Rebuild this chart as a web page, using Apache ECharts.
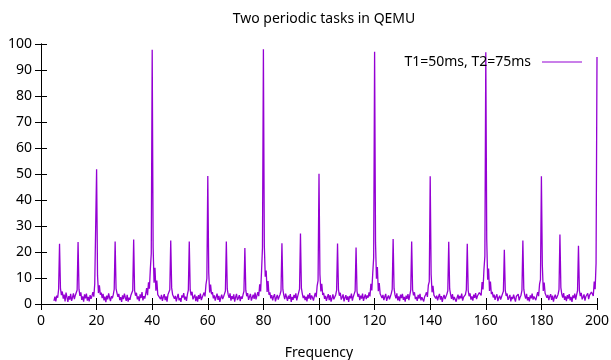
<!DOCTYPE html>
<html>
<head>
<meta charset="utf-8">
<script src="https://cdn.jsdelivr.net/npm/echarts@6/dist/echarts.min.js"></script>
<style>
  html, body { margin: 0; padding: 0; background: #fff; }
  #chart { width: 611px; height: 360px; }
</style>
</head>
<body>
<div id="chart"></div>
<script>
// Spectrum bins: frequency of bin n = n * BIN_WIDTH_HZ, first drawn bin = FIRST_BIN
const FIRST_BIN = 14;
const BIN_WIDTH_HZ = 1 / 3;

const xTicks = [0, 20, 40, 60, 80, 100, 120, 140, 160, 180, 200];
const yTicks = [0, 10, 20, 30, 40, 50, 60, 70, 80, 90, 100];

const seriesName = 'T1=50ms, T2=75ms';

// amplitude per bin; each row starts at a peak
const amplitude = [
  1.2, 2.8, 1.0, 3.2, 2.4, 5.6,
  23.2, 6.0, 3.4, 4.8, 2.1, 3.6, 1.0, 4.4, 2.6, 0.8, 3.0, 1.7, 3.9, 1.2, 2.5, 4.1, 1.9, 3.3, 3.8, 5.4,
  23.8, 5.7, 3.1, 4.5, 1.6, 2.9, 0.9, 3.7, 2.2, 4.0, 1.3, 2.7, 1.0, 3.4, 2.0, 3.1, 4.6, 2.8, 7.8, 8.4,
  51.8, 11.0, 4.2, 7.2, 3.6, 4.4, 2.3, 3.9, 1.4, 2.8, 0.7, 3.2, 1.8, 4.1, 2.4, 1.1, 3.0, 2.2, 3.6, 5.6,
  24.0, 5.9, 4.2, 2.8, 3.9, 1.5, 2.6, 0.8, 3.3, 1.9, 4.0, 2.5, 1.2, 3.5, 0.9, 2.4, 1.6, 3.4, 4.1, 5.2,
  24.8, 5.1, 3.2, 4.3, 1.8, 2.9, 1.1, 3.7, 2.3, 4.6, 1.4, 3.0, 2.1, 3.9, 6.1, 3.4, 8.3, 5.9, 13.5, 19.4,
  97.8, 21.7, 8.2, 13.9, 5.1, 9.0, 3.6, 3.1, 4.2, 1.9, 3.5, 1.2, 2.7, 3.8, 1.5, 2.9, 0.9, 3.6, 4.0, 5.5,
  24.4, 6.2, 3.7, 4.4, 2.0, 3.1, 1.0, 2.6, 3.9, 1.4, 2.2, 0.8, 3.3, 2.5, 4.2, 1.7, 2.8, 1.2, 3.7, 5.3,
  24.0, 5.4, 3.3, 4.7, 1.8, 2.5, 3.6, 1.1, 2.9, 0.9, 3.4, 2.0, 4.0, 1.5, 2.6, 3.2, 4.4, 2.9, 7.4, 9.8,
  49.2, 12.0, 4.4, 7.5, 3.8, 4.6, 2.2, 3.3, 1.3, 2.7, 4.0, 1.6, 3.1, 0.8, 2.4, 3.6, 1.9, 2.8, 3.9, 5.0,
  24.0, 5.8, 3.6, 2.4, 4.1, 1.3, 3.0, 1.9, 3.7, 0.9, 2.6, 3.9, 1.5, 2.3, 3.4, 1.1, 2.9, 2.0, 3.5, 4.9,
  21.5, 5.3, 3.0, 4.2, 1.6, 2.8, 3.9, 1.3, 2.5, 3.6, 2.0, 4.4, 1.8, 3.2, 4.6, 3.0, 7.6, 4.8, 12.6, 21.6,
  98.0, 22.4, 10.5, 12.9, 4.6, 8.8, 3.6, 4.5, 2.2, 3.4, 1.4, 2.9, 3.8, 1.0, 2.4, 3.5, 1.7, 2.8, 3.7, 5.1,
  23.4, 5.6, 3.4, 1.9, 4.0, 2.6, 1.2, 3.2, 2.0, 3.8, 0.8, 2.7, 1.6, 3.5, 2.3, 4.1, 1.4, 2.9, 3.6, 5.7,
  27.1, 6.1, 3.9, 2.3, 3.2, 1.5, 2.8, 1.0, 3.6, 2.1, 4.2, 1.7, 3.3, 2.5, 1.3, 3.0, 4.3, 2.6, 7.0, 9.0,
  50.1, 11.4, 4.8, 7.8, 3.5, 4.3, 2.0, 3.1, 1.2, 2.6, 3.8, 1.5, 3.4, 0.9, 2.2, 3.7, 1.8, 2.7, 3.5, 5.2,
  23.3, 5.5, 3.2, 4.3, 1.7, 2.6, 3.7, 1.0, 2.4, 3.4, 1.6, 2.9, 0.8, 3.1, 2.2, 4.0, 1.3, 2.8, 3.9, 5.0,
  21.7, 5.0, 2.8, 3.9, 1.5, 3.2, 2.1, 4.0, 1.2, 2.6, 3.7, 1.9, 3.3, 2.4, 4.5, 2.9, 7.8, 5.2, 11.8, 17.9,
  97.0, 23.6, 9.7, 14.2, 4.9, 8.1, 3.9, 4.6, 2.3, 3.5, 1.5, 2.8, 3.9, 1.2, 2.5, 3.3, 1.8, 2.9, 4.0, 5.6,
  25.0, 6.0, 3.5, 2.2, 4.1, 1.4, 2.9, 1.1, 3.6, 2.3, 3.9, 1.6, 2.7, 0.9, 3.2, 2.0, 3.8, 1.5, 3.4, 5.3,
  24.0, 5.4, 3.3, 4.5, 1.9, 2.7, 1.2, 3.5, 2.1, 3.9, 1.4, 2.6, 3.3, 1.0, 2.8, 3.6, 4.5, 2.7, 7.2, 8.6,
  49.1, 11.4, 4.5, 7.0, 3.4, 4.1, 2.1, 3.2, 1.4, 2.8, 3.9, 1.7, 3.0, 0.8, 2.5, 3.5, 1.9, 2.6, 3.8, 5.1,
  23.9, 5.8, 3.7, 2.0, 3.8, 1.5, 2.7, 3.4, 0.9, 2.4, 3.6, 1.8, 3.1, 2.2, 4.0, 1.3, 2.6, 1.9, 3.6, 5.4,
  23.2, 5.2, 3.0, 4.1, 1.7, 2.9, 1.3, 3.6, 2.4, 4.2, 1.9, 3.1, 2.6, 4.4, 5.1, 3.3, 8.4, 5.6, 13.2, 18.4,
  96.8, 25.0, 9.3, 13.6, 5.0, 8.6, 3.8, 4.7, 2.5, 3.6, 1.6, 2.9, 3.7, 1.1, 2.4, 3.2, 1.7, 2.8, 3.9, 4.9,
  20.9, 5.3, 3.1, 4.0, 1.6, 2.5, 3.5, 1.0, 2.7, 1.9, 3.6, 2.2, 0.9, 3.0, 2.4, 3.8, 1.4, 2.6, 3.4, 5.2,
  24.4, 5.7, 3.4, 2.1, 3.9, 1.4, 2.6, 1.0, 3.3, 2.2, 4.0, 1.7, 2.9, 3.5, 1.5, 3.1, 4.6, 3.0, 7.6, 9.4,
  49.1, 15.0, 5.0, 8.2, 4.1, 4.8, 2.4, 3.5, 1.5, 2.9, 3.8, 1.6, 3.2, 0.9, 2.6, 3.6, 2.0, 2.8, 3.7, 5.5,
  26.7, 6.3, 3.8, 2.5, 4.2, 1.6, 2.9, 1.1, 3.4, 2.1, 3.8, 1.4, 2.7, 0.8, 3.3, 2.3, 4.0, 1.7, 3.5, 5.1,
  22.4, 5.2, 3.0, 4.3, 1.8, 2.6, 3.7, 1.3, 2.9, 2.2, 4.1, 1.9, 3.4, 2.7, 4.6, 5.3, 3.1, 8.6, 5.7, 15.8,
  95.0
];

const points = amplitude.map((v, i) => [(FIRST_BIN + i) * BIN_WIDTH_HZ, v]);

const FONT = 'Noto Sans';
const FS = 14;
const chart = echarts.init(document.getElementById('chart'), null, { renderer: 'canvas' });

const xCommon = {
  type: 'value', min: xTicks[0], max: xTicks[xTicks.length - 1],
  interval: xTicks[1] - xTicks[0],
  splitLine: { show: false },
  axisLine: { show: true, lineStyle: { color: '#000', width: 1 } },
  axisTick: { show: true, inside: true, length: 6, lineStyle: { color: '#000', width: 1 } }
};
const yCommon = {
  type: 'value', min: yTicks[0], max: yTicks[yTicks.length - 1],
  interval: yTicks[1] - yTicks[0],
  splitLine: { show: false },
  axisLine: { show: true, lineStyle: { color: '#000', width: 1 } },
  axisTick: { show: true, inside: true, length: 6, lineStyle: { color: '#000', width: 1 } }
};

chart.setOption({
  animation: false,
  backgroundColor: '#fff',
  title: {
    text: 'Two periodic tasks in QEMU',
    left: 319, top: 7, textAlign: 'center',
    textStyle: { fontFamily: FONT, fontSize: FS, fontWeight: 'normal', color: '#000' }
  },
  legend: {
    data: [{ name: seriesName, icon: 'rect' }],
    right: 29, top: 55, align: 'right', padding: 0,
    itemWidth: 40, itemHeight: 1,
    textStyle: { fontFamily: FONT, fontSize: FS, color: '#000', padding: [0, 6, 0, 0] }
  },
  grid: { left: 41, right: 14, top: 44, bottom: 56, containLabel: false, outerBoundsMode: 'none' },
  xAxis: [
    Object.assign({}, xCommon, {
      position: 'bottom',
      name: 'Frequency', nameLocation: 'middle', nameGap: 42,
      nameTextStyle: { fontFamily: FONT, fontSize: FS, color: '#000' },
      axisLabel: { margin: 10, fontFamily: FONT, fontSize: FS, color: '#000' }
    }),
    Object.assign({}, xCommon, { position: 'top', axisLabel: { show: false } })
  ],
  yAxis: [
    Object.assign({}, yCommon, {
      position: 'left',
      axisLabel: { margin: 9, fontFamily: FONT, fontSize: FS, color: '#000' }
    }),
    Object.assign({}, yCommon, { position: 'right', axisLabel: { show: false } })
  ],
  series: [{
    name: seriesName,
    type: 'line',
    xAxisIndex: 0, yAxisIndex: 0,
    data: points,
    symbol: 'none',
    showSymbol: false,
    clip: true,
    lineStyle: { color: '#9400d3', width: 1.3 },
    itemStyle: { color: '#9400d3' }
  }]
});
</script>
</body>
</html>
